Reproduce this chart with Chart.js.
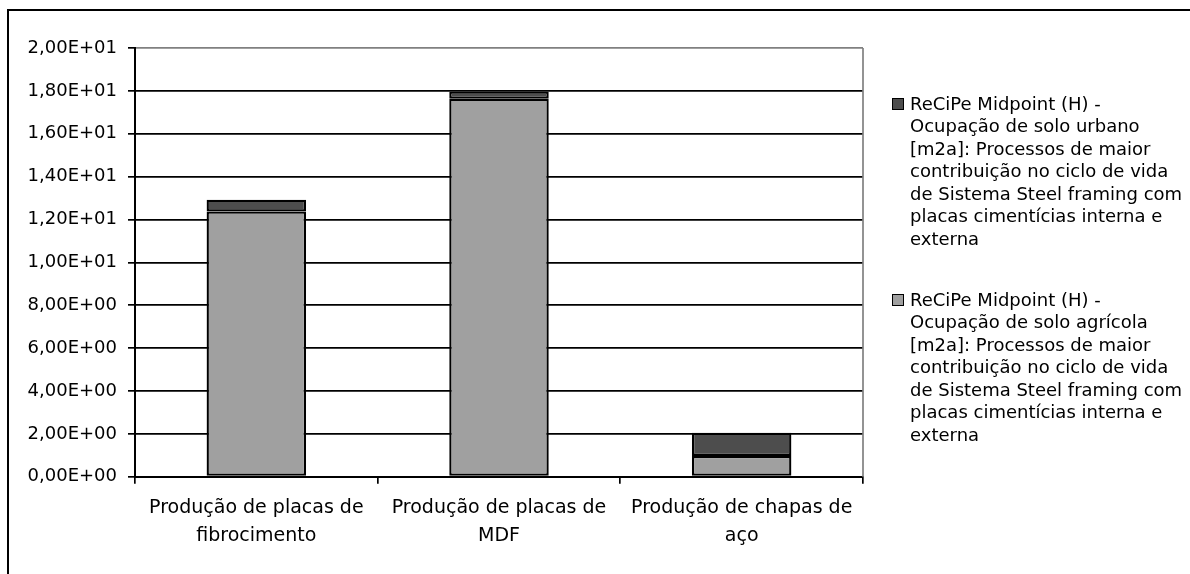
<!DOCTYPE html>
<html>
<head>
<meta charset="utf-8">
<script src="https://cdn.jsdelivr.net/npm/chart.js@4"></script>
<style>
  body { margin: 0; width: 1190px; height: 574px; overflow: hidden; background: #fff; font-family: "DejaVu Sans", sans-serif; }
  #frame { position: absolute; left: 7px; top: 9px; width: 1400px; height: 800px; border: 2px solid #000; }
  #myChart { position: absolute; left: 0; top: 0; }
  .leg { position: absolute; left: 892px; font-size: 18px; line-height: 22.5px; color: #000; white-space: nowrap; }
  .leg .box { position: absolute; left: 0; top: 5px; width: 12px; height: 12px; box-sizing: border-box; border: 1px solid #000; }
  .leg .txt { margin-left: 18px; }
</style>
</head>
<body>
<div id="frame"></div>
<canvas id="myChart" width="1190" height="574"></canvas>
<div id="legend"></div>
<script>
var categorias = [
    ['Produção de placas de', 'fibrocimento'],
    ['Produção de placas de', 'MDF'],
    ['Produção de chapas de', 'aço']
];
var soloAgricola = [12.37, 17.63, 0.97];
var soloUrbano = [0.55, 0.34, 1.08];
var ticksY = [0, 2, 4, 6, 8, 10, 12, 14, 16, 18, 20];

var legendas = [
    { cor: '#4d4d4d', linhas: ['ReCiPe Midpoint (H) -', 'Ocupação de solo urbano', '[m2a]: Processos de maior', 'contribuição no ciclo de vida', 'de Sistema Steel framing com', 'placas cimentícias interna e', 'externa'] },
    { cor: '#a0a0a0', linhas: ['ReCiPe Midpoint (H) -', 'Ocupação de solo agrícola', '[m2a]: Processos de maior', 'contribuição no ciclo de vida', 'de Sistema Steel framing com', 'placas cimentícias interna e', 'externa'] }
];

function cientifico(v) {
    var partes = Number(v).toExponential(2).split('e');
    var exp = parseInt(partes[1], 10);
    return partes[0].replace('.', ',') + 'E' + (exp < 0 ? '-' : '+') + String(Math.abs(exp)).padStart(2, '0');
}

// legenda em html
var topos = [92.75, 288.75];
var html = '';
legendas.forEach(function (l, i) {
    html += '<div class="leg" style="top:' + topos[i] + 'px"><span class="box" style="background:' + l.cor + '"></span>' +
        '<div class="txt">' + l.linhas.join('<br>') + '</div></div>';
});
document.getElementById('legend').innerHTML = html;

// borda cinza a direita da area do grafico
var bordaDireita = {
    id: 'bordaDireita',
    afterDraw: function (chart) {
        var a = chart.chartArea, c = chart.ctx;
        c.save();
        c.strokeStyle = '#808080';
        c.lineWidth = 1.7;
        c.beginPath();
        c.moveTo(a.right, a.top);
        c.lineTo(a.right, a.bottom);
        c.stroke();
        c.restore();
    }
};

var ctx = document.getElementById('myChart');

var myChart = new Chart(ctx, {
    type: 'bar',
    data: {
        labels: categorias,
        datasets: [{
            label: 'ReCiPe Midpoint (H) - Ocupação de solo agrícola',
            data: soloAgricola,
            backgroundColor: '#a0a0a0',
            borderColor: '#000',
            borderWidth: 2.3,
            borderSkipped: false
        }, {
            label: 'ReCiPe Midpoint (H) - Ocupação de solo urbano',
            data: soloUrbano,
            backgroundColor: '#4d4d4d',
            borderColor: '#000',
            borderWidth: 2.3,
            borderSkipped: false
        }]
    },
    options: {
        responsive: false,
        animation: false,
        devicePixelRatio: 1,
        layout: { padding: { left: 0, right: 327, top: 48, bottom: 0 } },
        datasets: { bar: { barPercentage: 0.41, categoryPercentage: 1 } },
        plugins: { legend: { display: false }, tooltip: { enabled: false } },
        scales: {
            x: {
                stacked: true,
                afterFit: function (s) { s.height = 97.3; },
                grid: { offset: true, drawOnChartArea: false, drawTicks: true, tickLength: 7, color: '#000', lineWidth: 1.7 },
                border: { color: '#000', width: 2 },
                ticks: { color: '#000', padding: 10, maxRotation: 0, font: { family: 'DejaVu Sans', size: 19, lineHeight: '28px' } }
            },
            y: {
                stacked: true,
                min: 0,
                max: 20,
                afterFit: function (s) { s.width = 135; },
                afterBuildTicks: function (s) { s.ticks = ticksY.map(function (v) { return { value: v }; }); },
                grid: {
                    color: function (c) { return c.tick && c.tick.value === 20 ? '#808080' : '#000'; },
                    tickColor: '#000',
                    lineWidth: 1.7,
                    tickLength: 7
                },
                border: { color: '#000', width: 2 },
                ticks: { color: '#000', padding: 11, callback: function (v) { return cientifico(v); }, font: { family: 'DejaVu Sans', size: 18 } }
            }
        }
    },
    plugins: [bordaDireita]
});
</script>
</body>
</html>
